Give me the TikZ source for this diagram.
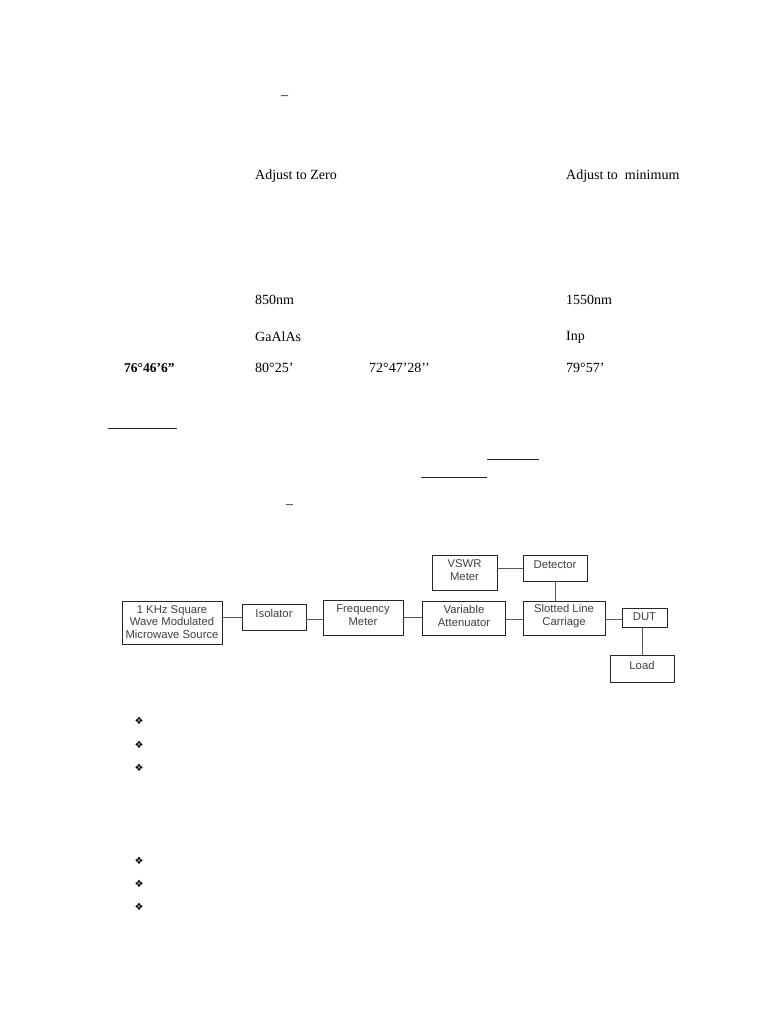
\documentclass[tikz,border=0pt]{standalone}
\usepackage{fontspec}
\setmainfont{Liberation Serif}
\newfontfamily\diagfont{Liberation Sans}
\newfontfamily\symfont{DejaVu Sans}
\begin{document}
\begin{tikzpicture}[x=1pt,y=-1pt,
  txt/.style={anchor=west,inner sep=0pt,font=\fontsize{14}{16}\selectfont},
  blk/.style={draw=black!85,line width=0.8pt,inner sep=0pt,align=center,text=black!75,font=\diagfont\fontsize{11.3}{12.5}\selectfont},
  lbl/.style={inner sep=0pt,align=center,text=black!75,font=\diagfont\fontsize{11.3}{12.5}\selectfont},
  wire/.style={draw=black!65,line width=1pt},
  rule/.style={draw=black!85,line width=0.9pt},
  bul/.style={inner sep=0pt,font=\symfont\fontsize{10}{11}\selectfont}]
\useasboundingbox[fill=white] (0,0) rectangle (768,1024);
% top text
\node[txt] (dash1) at (281,98) {–};
\node[txt] (adz) at (255,176) {Adjust to Zero};
\node[txt] (adm) at (566,176) {Adjust to\ \ minimum};
\node[txt] (n850) at (255,300) {850nm};
\node[txt] (n1550) at (566,300) {1550nm};
\node[txt] (gaalas) at (255,337) {GaAlAs};
\node[txt] (inp) at (566,337) {Inp};
\node[txt,font=\bfseries\fontsize{13.5}{16}\selectfont] (a1) at (124,368) {76°46’6”};
\node[txt] (a2) at (255,368) {80°25’};
\node[txt] (a3) at (369,368) {72°47’28’’};
\node[txt] (a4) at (566,368) {79°57’};
\node[txt] (dash2) at (286,507) {–};
% underlines
\coordinate (u1a) at (108,428); \coordinate (u1b) at (177,428);
\coordinate (u2a) at (487,459); \coordinate (u2b) at (539,459);
\coordinate (u3a) at (421,477); \coordinate (u3b) at (487,477);
\draw[rule] (u1a) -- (u1b);
\draw[rule] (u2a) -- (u2b);
\draw[rule] (u3a) -- (u3b);
% diagram blocks
\node[blk,minimum width=100pt,minimum height=43pt] (src) at (172,622.5) {};
\node[lbl] at (172,622) {1 KHz Square\\Wave Modulated\\Microwave Source};
\node[blk,minimum width=64pt,minimum height=26pt] (iso) at (274,617) {};
\node[lbl] at (274,613) {Isolator};
\node[blk,minimum width=80pt,minimum height=35pt] (fm) at (363,618) {};
\node[lbl] at (363,615) {Frequency\\Meter};
\node[blk,minimum width=83pt,minimum height=34pt] (va) at (464,618) {};
\node[lbl] at (464,616) {Variable\\Attenuator};
\node[blk,minimum width=65pt,minimum height=35pt] (vswr) at (464.5,572.5) {};
\node[lbl] at (464.5,570) {VSWR\\Meter};
\node[blk,minimum width=64pt,minimum height=26pt] (det) at (555,568) {};
\node[lbl] at (555,565) {Detector};
\node[blk,minimum width=82pt,minimum height=34pt] (sl) at (564,618) {};
\node[lbl] at (564,616) {Slotted Line\\Carriage};
\node[blk,minimum width=45pt,minimum height=19pt] (dut) at (644.5,617.5) {};
\node[lbl] at (644.5,617) {DUT};
\node[blk,minimum width=64pt,minimum height=27pt] (load) at (642,668.5) {};
\node[lbl] at (642,665) {Load};
% connectors
\draw[wire] (src.east |- 0,617) -- (iso.west |- 0,617);
\draw[wire] (iso.east |- 0,619) -- (fm.west |- 0,619);
\draw[wire] (fm.east |- 0,617) -- (va.west |- 0,617);
\draw[wire] (va.east |- 0,619) -- (sl.west |- 0,619);
\draw[wire] (sl.east |- 0,619) -- (dut.west |- 0,619);
\draw[wire] (vswr.east |- 0,568) -- (det.west |- 0,568);
\draw[wire] (det.south -| 555,0) -- (sl.north -| 555,0);
\draw[wire] (dut.south -| 642,0) -- (load.north -| 642,0);
% bullets
\node[bul] (b1) at (139,721) {❖};
\node[bul] (b2) at (139,745) {❖};
\node[bul] (b3) at (139,768) {❖};
\node[bul] (b4) at (139,861) {❖};
\node[bul] (b5) at (139,884) {❖};
\node[bul] (b6) at (139,907) {❖};
\end{tikzpicture}
\end{document}
